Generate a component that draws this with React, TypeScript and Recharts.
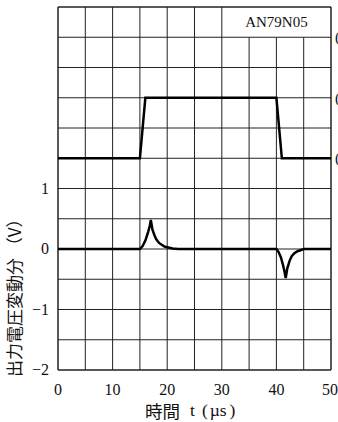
import {
  LineChart,
  Line,
  XAxis,
  YAxis,
  ReferenceLine,
  ReferenceDot,
  Label,
} from "recharts";

// input step (upper trace)
const stepTimes = [0, 15, 16, 40, 41, 50];
const stepValues = [1.5, 1.5, 2.5, 2.5, 1.5, 1.5];

// output voltage variation (lower trace)
const outTimes = [
  0, 15, 15.5, 16, 16.5, 16.8, 17, 17.3, 17.7, 18, 18.5, 19, 19.5, 20, 21, 22,
  40, 40.4, 40.8, 41.2, 41.5, 41.7, 42, 42.4, 42.8, 43.3, 43.8, 44.4, 45, 50,
];
const outValues = [
  0, 0, 0.05, 0.14, 0.28, 0.38, 0.48, 0.32, 0.22, 0.16, 0.1, 0.07, 0.04, 0.03,
  0.01, 0, 0, -0.05, -0.13, -0.26, -0.38, -0.48, -0.32, -0.2, -0.12, -0.07,
  -0.04, -0.02, 0, 0,
];

const xTicks = [0, 10, 20, 30, 40, 50];
const yTicks = [-2, -1, 0, 1];
const gridX = [0, 5, 10, 15, 20, 25, 30, 35, 40, 45, 50];
const gridY = [-2, -1.5, -1, -0.5, 0, 0.5, 1, 1.5, 2, 2.5, 3, 3.5, 4];
const markerLevels = [3.5, 2.5, 1.5];
const boxLabel = "AN79N05";

const stepData = stepTimes.map((t, i) => ({ t, v: stepValues[i] }));
const outData = outTimes.map((t, i) => ({ t, v: outValues[i] }));

const serif = '"Liberation Serif", "Noto Sans CJK JP", serif';
const cjk = '"Noto Sans CJK JP", "Liberation Serif", serif';
const gridColor = "#222";
const ink = "#111";

const XTick = (props: any) => {
  const { x, y, payload } = props;
  return (
    <text
      x={x}
      y={y + 17}
      textAnchor="middle"
      fill={ink}
      style={{ fill: ink, fontSize: 16, fontFamily: serif }}
    >
      {payload.value}
    </text>
  );
};

const YTick = (props: any) => {
  const { x, y, payload } = props;
  return (
    <text
      x={x - 1}
      y={y + 5}
      textAnchor="end"
      fill={ink}
      style={{ fill: ink, fontSize: 16, fontFamily: serif }}
    >
      {String(payload.value).replace("-", "−")}
    </text>
  );
};

const markLabel = (text: string, dx: number, anchor: string, size: number) =>
  (props: any) => {
    const vb = props.viewBox || {};
    return (
      <text
        x={vb.x + dx}
        y={vb.y}
        textAnchor={anchor}
        dominantBaseline="central"
        fill={ink}
        style={{ fill: ink, fontSize: size, fontFamily: serif }}
      >
        {text}
      </text>
    );
  };

export default function App() {
  return (
    <div style={{ position: "absolute", left: 0, top: 0, background: "#fff" }}>
      <LineChart
        width={338}
        height={422}
        margin={{ top: 7, right: 7, left: 0, bottom: 0 }}
      >
        <XAxis
          type="number"
          dataKey="t"
          domain={[0, 50]}
          ticks={xTicks}
          axisLine={false}
          tickLine={false}
          height={52}
          tick={XTick}
        >
          <Label
            content={() => (
              <text
                x={145}
                y={410}
                textAnchor="start"
                dominantBaseline="central"
                fill={ink}
                style={{ fill: ink, fontSize: 17.5, fontFamily: cjk }}
              >
                <tspan>時間</tspan>
                <tspan dx={10} style={{ fontFamily: serif }}>t</tspan>
                <tspan dx={7} style={{ fontFamily: serif }}>(</tspan>
                <tspan dx={2} style={{ fontFamily: serif }}>µs</tspan>
                <tspan dx={3} style={{ fontFamily: serif }}>)</tspan>
              </text>
            )}
          />
        </XAxis>
        <YAxis
          type="number"
          domain={[-2, 4]}
          ticks={yTicks}
          axisLine={false}
          tickLine={false}
          width={58}
          tick={YTick}
        >
          <Label
            content={() => (
              <text
                x={13}
                y={377}
                transform="rotate(-90, 13, 377)"
                textAnchor="start"
                dominantBaseline="central"
                fill={ink}
                style={{ fill: ink, fontSize: 17, fontFamily: cjk }}
              >
                出力電圧変動分 （V）
              </text>
            )}
          />
        </YAxis>

        {gridY.map((y) => (
          <ReferenceLine
            key={"h" + y}
            y={y}
            stroke={gridColor}
            strokeWidth={y === -2 || y === 4 ? 1.5 : 1}
          />
        ))}
        {gridX.map((x) =>
          x > 30 && x < 50 ? (
            <ReferenceLine
              key={"v" + x}
              segment={[
                { x, y: -2 },
                { x, y: 3.5 },
              ]}
              stroke={gridColor}
              strokeWidth={1}
            />
          ) : (
            <ReferenceLine
              key={"v" + x}
              x={x}
              stroke={gridColor}
              strokeWidth={x === 0 || x === 50 ? 1.5 : 1}
            />
          )
        )}

        <ReferenceDot
          x={40}
          y={3.75}
          r={0}
          fill="none"
          stroke="none"
          ifOverflow="visible"
          label={markLabel(boxLabel, 0, "middle", 15)}
        />
        {markerLevels.map((y) => (
          <ReferenceDot
            key={"m" + y}
            x={50}
            y={y}
            r={0}
            fill="none"
            stroke="none"
            ifOverflow="visible"
            label={markLabel("(", 4, "start", 15)}
          />
        ))}

        <Line
          data={stepData}
          dataKey="v"
          type="linear"
          stroke="#000"
          strokeWidth={2.5}
          dot={false}
          isAnimationActive={false}
        />
        <Line
          data={outData}
          dataKey="v"
          type="linear"
          stroke="#000"
          strokeWidth={2.5}
          dot={false}
          isAnimationActive={false}
        />
      </LineChart>
    </div>
  );
}
